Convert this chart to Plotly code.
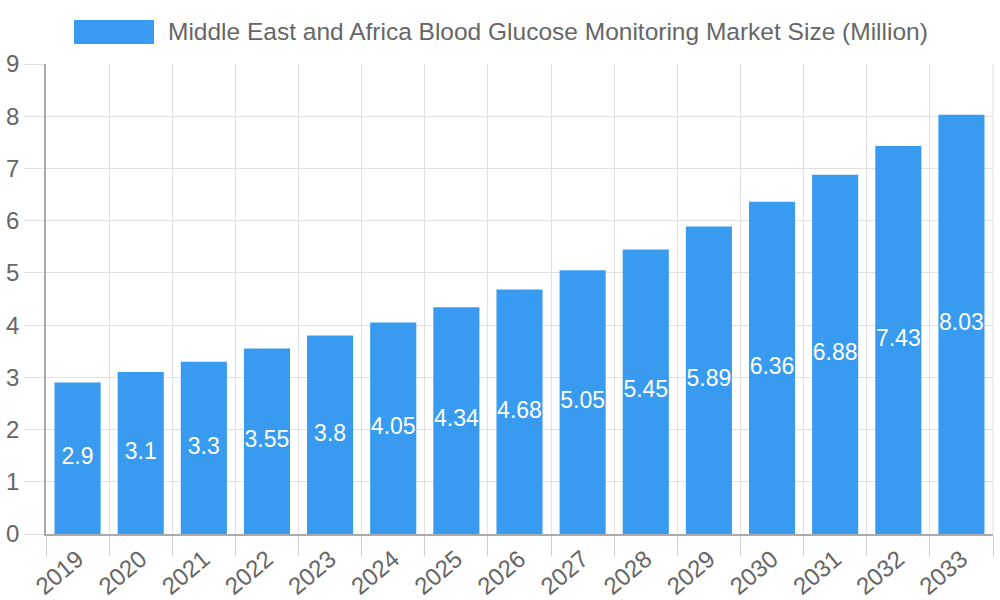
import plotly.graph_objects as go

years = ["2019", "2020", "2021", "2022", "2023", "2024", "2025", "2026",
         "2027", "2028", "2029", "2030", "2031", "2032", "2033"]
values = [2.9, 3.1, 3.3, 3.55, 3.8, 4.05, 4.34, 4.68, 5.05, 5.45, 5.89, 6.36, 6.88, 7.43, 8.03]
series_name = "Middle East and Africa Blood Glucose Monitoring Market Size (Million)"
y_ticks = [0, 1, 2, 3, 4, 5, 6, 7, 8, 9]

BLUE = "#389BEF"
FONT = "Liberation Sans, Arial, sans-serif"
GREY = "#666666"
FS = 24

W, H = 1000, 600
ML, MR, MT, MB = 46, 7, 64, 66
PW = W - ML - MR
PH = H - MT - MB

fig = go.Figure()
fig.add_trace(go.Bar(
    x=years, y=values, name=series_name,
    marker=dict(color=BLUE, line=dict(width=0)),
    showlegend=False, hoverinfo="x+y",
))
fig.add_trace(go.Scatter(
    x=years, y=[v / 2 for v in values], mode="text",
    text=[str(v) for v in values], textposition="middle center",
    textfont=dict(color="white", size=FS - 1, family=FONT),
    showlegend=False, hoverinfo="skip",
))

fig.update_layout(
    width=W, height=H,
    margin=dict(l=ML, r=MR, t=MT, b=MB),
    paper_bgcolor="white", plot_bgcolor="white",
    bargap=0.27,
    font=dict(family=FONT, color=GREY, size=FS),
)
fig.update_xaxes(
    type="category", tickson="boundaries", automargin=False,
    range=[-0.5, len(years) - 0.5],
    showgrid=True, gridcolor="#e0e0e0", gridwidth=1,
    ticks="outside", ticklen=20, tickcolor="#d0d0d0",
    tickangle=-40, tickfont=dict(size=FS, color=GREY, family=FONT),
    showline=True, linecolor="#aaaaaa", linewidth=1.5,
)
fig.update_yaxes(
    range=[0, 9], tickvals=y_ticks, automargin=False,
    showgrid=True, gridcolor="#e0e0e0", gridwidth=1,
    ticks="outside", ticklen=20, tickcolor="#e0e0e0",
    tickfont=dict(size=FS, color=GREY, family=FONT),
    showline=True, linecolor="#aaaaaa", linewidth=1.5,
    zeroline=False,
)
fig.add_shape(type="line", xref="paper", yref="paper", x0=1, x1=1, y0=0, y1=1,
              line=dict(color="#e0e0e0", width=1))

def px_x(p):
    return (p - ML) / PW
def px_y(p):
    return (H - MB - p) / PH

fig.add_shape(type="rect", xref="paper", yref="paper",
              x0=px_x(74), x1=px_x(154), y0=px_y(44), y1=px_y(20),
              fillcolor=BLUE, line=dict(width=0))
fig.add_annotation(xref="paper", yref="paper",
                   x=px_x(166), y=px_y(32),
                   xanchor="left", yanchor="middle",
                   text=series_name, showarrow=False,
                   font=dict(size=24.5, color=GREY, family=FONT))

fig.write_html(
    "out.html",
    config={"displayModeBar": False},
    post_script="document.body.style.margin='0';document.body.style.overflow='hidden';",
)
